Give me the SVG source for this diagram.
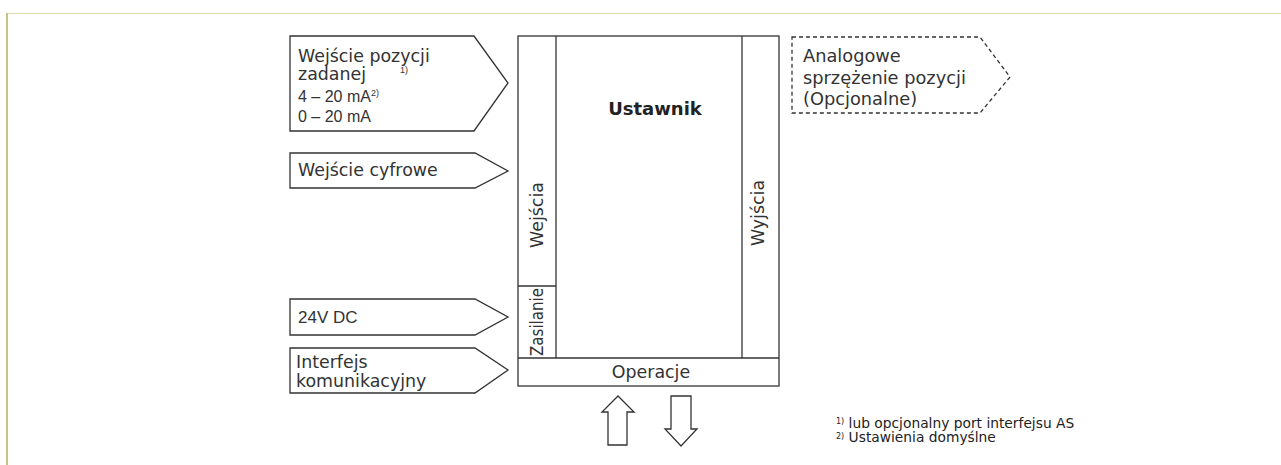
<svg xmlns="http://www.w3.org/2000/svg" width="1281" height="465" viewBox="0 0 1281 465">
<style>
.t{font-family:"DejaVu Sans",sans-serif;font-size:17.4px;fill:#333}
.s{font-family:"Liberation Sans",sans-serif;font-size:16px;fill:#333}
.sup{font-family:"Liberation Sans",sans-serif;font-size:9px;fill:#333}
.fn{font-family:"DejaVu Sans",sans-serif;font-size:13.8px;fill:#222}
.shape{fill:#fff;stroke:#333;stroke-width:1.3}
.dash{fill:#fff;stroke:#333;stroke-width:1.3;stroke-dasharray:4 3}
</style>
<rect width="1281" height="465" fill="#fff"/>
<line x1="7" y1="13.5" x2="1281" y2="13.5" stroke="#e2ddb5" stroke-width="1"/>
<line x1="7" y1="13" x2="7" y2="465" stroke="#c9c287" stroke-width="2"/>

<g id="in-setpoint">
<polygon class="shape" points="290,36 474,36 508,83 474,131 290,131"/>
<text class="t" x="298" y="62">Wejście pozycji</text>
<text class="t" x="298" y="80">zadanej</text>
<text class="sup" x="400" y="73">1)</text>
<text class="s" x="298" y="102">4 – 20 mA<tspan class="sup" dy="-6">2)</tspan></text>
<text class="s" x="298" y="122">0 – 20 mA</text>
</g>

<g id="in-digital">
<polygon class="shape" points="290,153 475,153 508,171 475,188 290,188"/>
<text class="t" x="298" y="176">Wejście cyfrowe</text>
</g>

<g id="in-power">
<polygon class="shape" points="290,299 475,299 508,317 475,335 290,335"/>
<text class="s" x="298" y="323" style="font-size:17px">24V DC</text>
</g>

<g id="in-comm">
<polygon class="shape" points="290,348 475,348 508,370 475,393 290,393"/>
<text class="t" x="296" y="368">Interfejs</text>
<text class="t" x="296" y="387">komunikacyjny</text>
</g>

<g id="ustawnik">
<rect class="shape" x="518" y="36" width="261" height="350"/>
<line x1="556" y1="36" x2="556" y2="358" stroke="#333" stroke-width="1.3"/>
<line x1="742" y1="36" x2="742" y2="358" stroke="#333" stroke-width="1.3"/>
<line x1="518" y1="286" x2="556" y2="286" stroke="#333" stroke-width="1.3"/>
<line x1="518" y1="358" x2="779" y2="358" stroke="#333" stroke-width="1.3"/>
<text x="655" y="115" text-anchor="middle" style="font-family:'DejaVu Sans',sans-serif;font-size:18px;font-weight:bold;fill:#222">Ustawnik</text>
<text class="t" text-anchor="middle" transform="translate(543,215) rotate(-90)">Wejścia</text>
<text class="t" text-anchor="middle" textLength="68" lengthAdjust="spacingAndGlyphs" transform="translate(543,322) rotate(-90)">Zasilanie</text>
<text class="t" text-anchor="middle" transform="translate(764,213) rotate(-90)">Wyjścia</text>
<text class="t" x="651" y="378" text-anchor="middle">Operacje</text>
</g>

<g id="out-analog">
<polygon class="dash" points="792,37 980,37 1010,77 980,113 792,113"/>
<text class="t" x="803" y="62" style="font-size:17.8px">Analogowe</text>
<text class="t" x="803" y="84" style="font-size:17.8px">sprzężenie pozycji</text>
<text class="t" x="803" y="105" style="font-size:17.8px">(Opcjonalne)</text>
</g>

<g id="connectors">
<polygon class="shape" points="608,445 608,412 602,412 618,396 634,412 627,412 627,445"/>
<polygon class="shape" points="671,396 691,396 691,429 697,429 681,446 665,429 671,429"/>
</g>

<g id="footnotes">
<text class="fn" x="836" y="428"><tspan style="font-size:8px" dy="-4">1)</tspan><tspan dy="4"> lub opcjonalny port interfejsu AS</tspan></text>
<text class="fn" x="836" y="442"><tspan style="font-size:8px" dy="-3">2)</tspan><tspan dy="3"> Ustawienia domyślne</tspan></text>
</g>
</svg>
